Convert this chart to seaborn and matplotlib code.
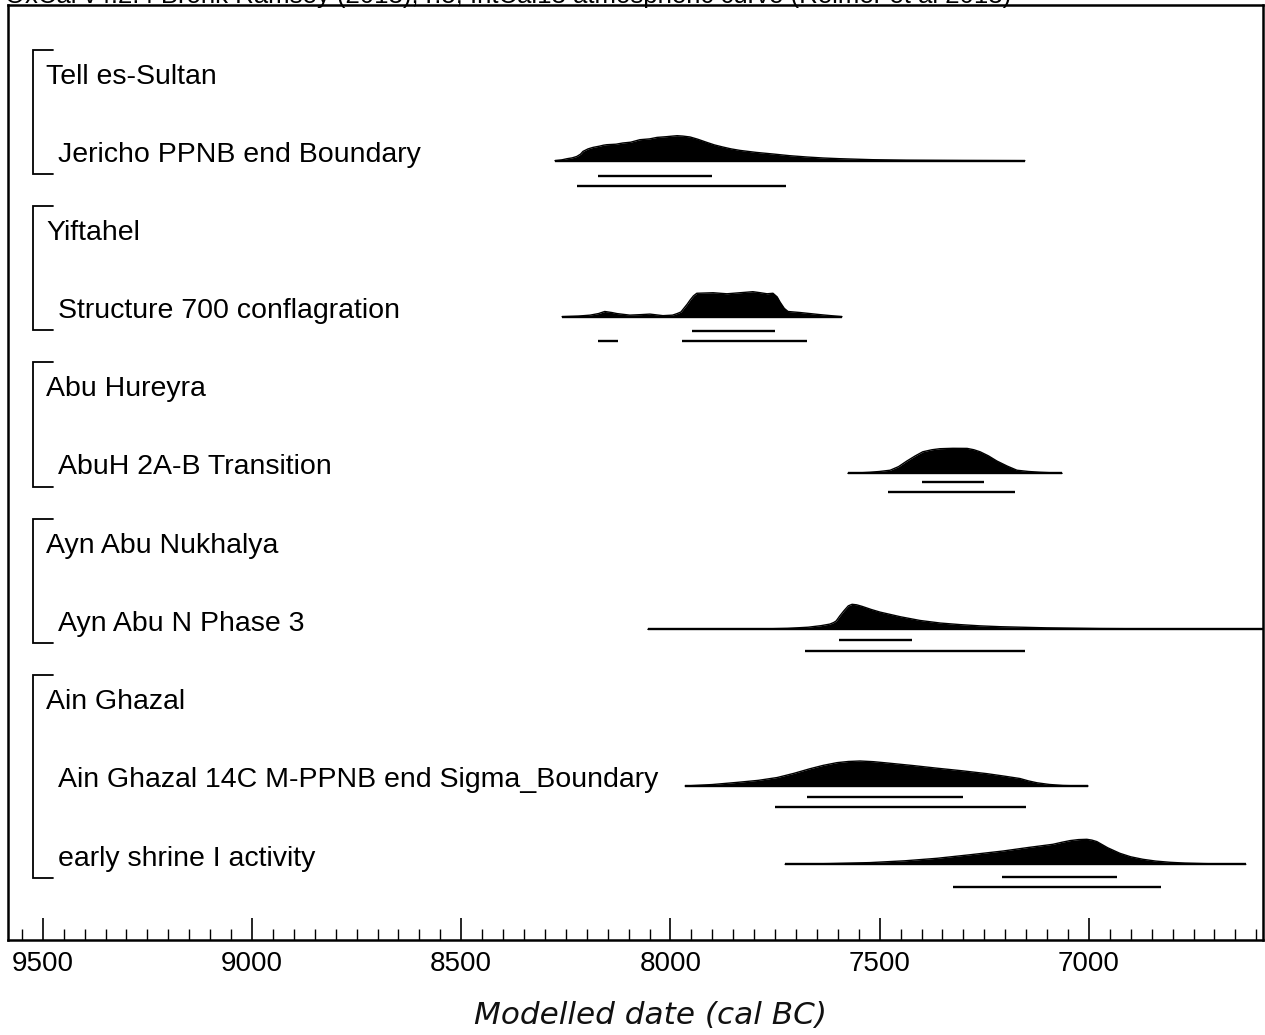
import numpy as np
import pandas as pd
import matplotlib
matplotlib.use("Agg")
import matplotlib.pyplot as plt
import seaborn as sns
from matplotlib.ticker import MultipleLocator

# ---------------- data ----------------
title_text = "OxCal v4.2.4 Bronk Ramsey (2013); r:5; IntCal13 atmospheric curve (Reimer et al 2013)"
x_label = "Modelled date (cal BC)"

row_labels = ["Tell es-Sultan", "Jericho PPNB end Boundary",
              "Yiftahel", "Structure 700 conflagration",
              "Abu Hureyra", "AbuH 2A-B Transition",
              "Ayn Abu Nukhalya", "Ayn Abu N Phase 3",
              "Ain Ghazal", "Ain Ghazal 14C M-PPNB end Sigma_Boundary",
              "early shrine I activity"]
row_is_group = [True, False, True, False, True, False, True, False, True, False, False]

# posterior density curves (years cal BC, relative density)
jericho_years = [8276, 8260, 8247, 8235, 8224, 8215, 8209, 8197, 8185, 8170, 8160, 8152, 8130, 8114, 8095, 8073, 8050, 8032, 8010, 7995, 7984, 7970, 7953, 7935, 7913, 7895, 7875, 7855, 7834, 7795, 7755, 7715, 7674, 7635, 7595, 7516, 7435, 7300, 7153]
jericho_dens = [0, 0.8, 2, 2.8, 4.2, 6.5, 9.3, 11.8, 13.3, 14.5, 15.5, 16, 16.5, 17.7, 18.5, 21, 21.8, 23.3, 24, 24.6, 25, 24.6, 23.7, 21.5, 18.3, 15.8, 13.7, 11.8, 10.3, 8.3, 6.7, 5, 3.7, 2.7, 2, 1, 0.5, 0.2, 0]
jericho_68 = [(8173, 7901)]
jericho_95 = [(8224, 7724)]

struct_years = [8259, 8220, 8192, 8172, 8157, 8140, 8128, 8097, 8070, 8049, 8018, 7995, 7984, 7975, 7970, 7960, 7953, 7945, 7937, 7898, 7865, 7834, 7803, 7785, 7769, 7755, 7745, 7738, 7728, 7719, 7690, 7643, 7590]
struct_dens = [0, 0.6, 1.5, 3, 5, 4, 3, 1.5, 2, 2.5, 1, 1.5, 3, 4.5, 7, 12, 16, 20, 22.5, 23, 22, 23, 24, 23, 22, 22.5, 19, 14, 8, 5, 4, 2, 0]
struct_68 = [(7949, 7750)]
struct_95 = [(8173, 8125), (7973, 7674)]

abuh_years = [7576, 7545, 7523, 7500, 7475, 7455, 7435, 7415, 7397, 7375, 7356, 7325, 7291, 7275, 7260, 7240, 7220, 7195, 7172, 7145, 7117, 7090, 7064]
abuh_dens = [0, 0.5, 1, 1.8, 3, 6.5, 12, 17, 21, 23, 24, 24.4, 24.3, 23, 21, 17, 12, 7, 3, 1.8, 1, 0.5, 0]
abuh_68 = [(7399, 7251)]
abuh_95 = [(7480, 7177)]

ayn_years = [8054, 7900, 7786, 7720, 7671, 7640, 7619, 7610, 7604, 7595, 7585, 7575, 7566, 7555, 7542, 7520, 7499, 7450, 7404, 7355, 7308, 7260, 7212, 7100, 6974, 6850, 6734, 6584]
ayn_dens = [0, 0.1, 0.3, 0.9, 2, 3.5, 5, 6.5, 8, 13, 18, 22.5, 24, 23.5, 22, 19, 16.5, 12, 8.5, 6, 4.5, 3.3, 2.5, 1.4, 0.7, 0.45, 0.3, 0.1]
ayn_68 = [(7597, 7423)]
ayn_95 = [(7679, 7153)]

ag_years = [7965, 7900, 7841, 7790, 7745, 7705, 7667, 7635, 7602, 7575, 7547, 7515, 7483, 7420, 7363, 7300, 7244, 7205, 7165, 7145, 7124, 7095, 7062, 7030, 7002]
ag_dens = [0, 1.5, 3.7, 5.8, 8.7, 13, 17.7, 21.2, 24, 25.2, 25.7, 25, 23.7, 21, 18.3, 15.5, 12.7, 10.3, 7.7, 5.3, 3.3, 1.6, 0.5, 0.15, 0]
ag_68 = [(7674, 7301)]
ag_95 = [(7750, 7150)]

shrine_years = [7726, 7620, 7523, 7440, 7363, 7285, 7205, 7145, 7086, 7065, 7045, 7025, 7005, 6993, 6981, 6955, 6926, 6900, 6871, 6840, 6806, 6770, 6727, 6680, 6625]
shrine_dens = [0, 0.7, 1.7, 3.5, 6, 9.5, 13.3, 16.8, 20, 22, 23.7, 24.7, 25, 24.2, 22.7, 16.5, 11, 7.5, 5, 3.2, 2, 1.2, 0.7, 0.3, 0]
shrine_68 = [(7208, 6933)]
shrine_95 = [(7325, 6828)]

dists = {
    "Jericho PPNB end Boundary": (jericho_years, jericho_dens, jericho_68, jericho_95),
    "Structure 700 conflagration": (struct_years, struct_dens, struct_68, struct_95),
    "AbuH 2A-B Transition": (abuh_years, abuh_dens, abuh_68, abuh_95),
    "Ayn Abu N Phase 3": (ayn_years, ayn_dens, ayn_68, ayn_95),
    "Ain Ghazal 14C M-PPNB end Sigma_Boundary": (ag_years, ag_dens, ag_68, ag_95),
    "early shrine I activity": (shrine_years, shrine_dens, shrine_68, shrine_95),
}

x_major = 500
x_minor = 50
x_lim = (9583, 6584)

# ---------------- layout (pixel-like y units) ----------------
row_y0 = 73.5
row_step = 78.2
text_shift = 3
# offsets below label centre: baseline, 68% line, 95% line
offsets = {
    "Jericho PPNB end Boundary": (9, 24, 34),
    "Structure 700 conflagration": (8.6, 23, 33),
    "AbuH 2A-B Transition": (8.8, 17.5, 27.5),
    "Ayn Abu N Phase 3": (8.4, 19, 29.8),
    "Ain Ghazal 14C M-PPNB end Sigma_Boundary": (8.7, 19.7, 29.7),
    "early shrine I activity": (8.8, 21.2, 31.2),
}
peak_h = 25

sns.set_theme(style="white")
plt.rcParams["font.family"] = ["Liberation Sans", "DejaVu Sans"]

W, H = 1265, 1035
fig = plt.figure(figsize=(W / 100, H / 100), dpi=100)
ax = fig.add_axes([8 / W, 1 - 940 / H, (1263 - 8) / W, (940 - 5) / H])
ax.set_xlim(*x_lim)
ax.set_ylim(940, 5)

for i, lab in enumerate(row_labels):
    y = row_y0 + i * row_step
    xt = 0.0303 if row_is_group[i] else 0.0398
    ax.text(xt, y + text_shift, lab, transform=ax.get_yaxis_transform(), fontsize=20.5,
            va="center", ha="left", color="black")
    if lab in dists:
        yrs, dens, h68, h95 = dists[lab]
        ob, o68, o95 = offsets[lab]
        base = y + ob
        d = np.asarray(dens, float)
        d = d / d.max() * peak_h
        df = pd.DataFrame({"year": yrs, "top": base - d})
        ax.fill_between(df["year"], base, df["top"], color="black", lw=0)
        sns.lineplot(data=df, x="year", y="top", ax=ax, color="black", lw=1.0, sort=False)
        ax.plot([yrs[0], yrs[-1]], [base, base], color="black", lw=1.7, solid_capstyle="butt")
        for a, b in h68:
            ax.plot([a, b], [y + o68, y + o68], color="black", lw=1.7, solid_capstyle="butt")
        for a, b in h95:
            ax.plot([a, b], [y + o95, y + o95], color="black", lw=1.7, solid_capstyle="butt")

# group brackets
group_idx = [i for i, g in enumerate(row_is_group) if g]
tr = ax.get_yaxis_transform()
for k, gi in enumerate(group_idx):
    last = (group_idx[k + 1] - 1) if k + 1 < len(group_idx) else len(row_labels) - 1
    top = row_y0 + gi * row_step - 24
    bot = row_y0 + last * row_step + 22
    ax.plot([0.0359, 0.0199, 0.0199, 0.0359], [top, top, bot, bot], transform=tr,
            color="black", lw=1.3, solid_joinstyle="miter", clip_on=False)

ax.set_ylabel("")
ax.set_xlabel("")
ax.set_yticks([])
ax.xaxis.set_major_locator(MultipleLocator(x_major))
ax.xaxis.set_minor_locator(MultipleLocator(x_minor))
ax.xaxis.set_major_formatter(matplotlib.ticker.FuncFormatter(lambda v, p: f"{int(v)}"))
ax.tick_params(axis="x", which="major", direction="in", length=16, width=1.2,
               labelsize=20, pad=8, bottom=True, top=False, colors="black")
ax.tick_params(axis="x", which="minor", direction="in", length=8, width=1.0,
               bottom=True, top=False, colors="black")
for s in ax.spines.values():
    s.set_visible(True)
    s.set_color("black")
    s.set_linewidth(1.8)

fig.text(651 / W, 1 - 1015 / H, x_label, fontsize=22.4, style="italic",
         family="DejaVu Sans", ha="center", va="center", color="#111111")
fig.text(5 / W, 1 - 3 / H, title_text, fontsize=18.5, ha="left", va="baseline", color="black")

fig.savefig("out.png", dpi=100)
